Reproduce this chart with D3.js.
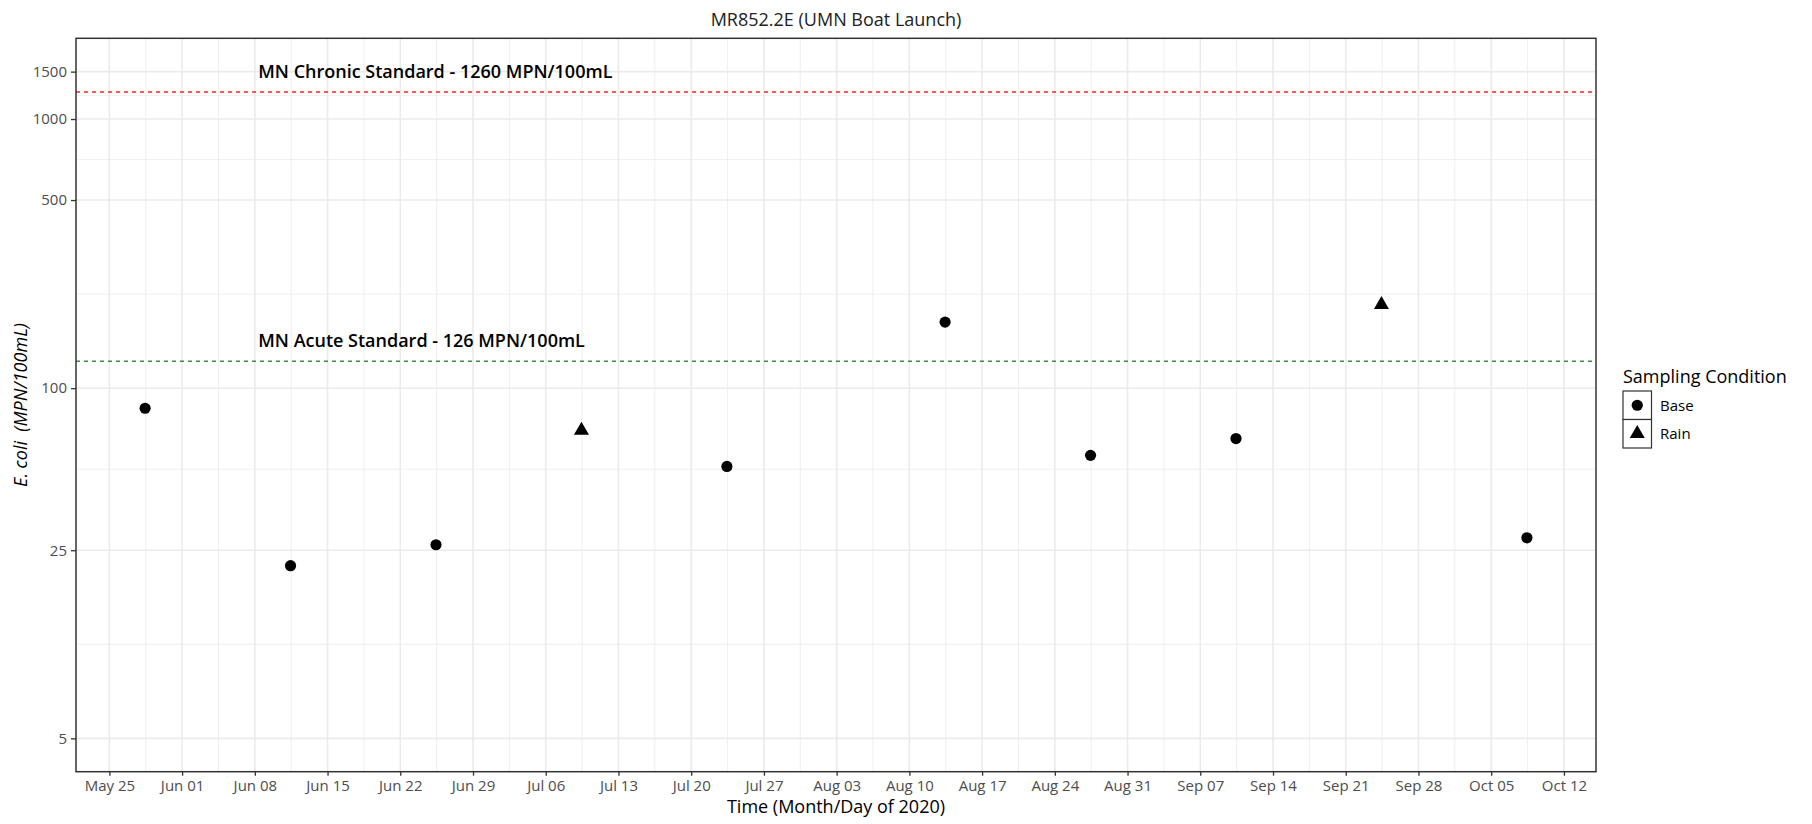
<!DOCTYPE html>
<html>
<head>
<meta charset="utf-8">
<script src="https://cdn.jsdelivr.net/npm/d3@7"></script>
<style>
body { margin: 0; background: #fff; }
svg { font-family: "Open Sans", sans-serif; }
</style>
</head>
<body>
<svg id="chart"></svg>
<script>
var sampleDates = ["2020-05-28", "2020-06-11", "2020-06-25", "2020-07-09", "2020-07-23",
	"2020-08-13", "2020-08-27", "2020-09-10", "2020-09-24", "2020-10-08"];
var ecoli = [84.2, 21.9, 26.2, 69.7, 51.2, 176.0, 56.3, 65.0, 204.5, 27.8];
var condition = ["Base", "Base", "Base", "Rain", "Base", "Base", "Base", "Base", "Rain", "Base"];
var yTicks = [5, 25, 100, 500, 1000, 1500];
var yMinor = [11.18, 50, 223.6, 707.1, 1224.7];
var standards = [
	{label: "MN Chronic Standard - 1260 MPN/100mL", value: 1260, labelAt: 1500, color: "#ff2020"},
	{label: "MN Acute Standard - 126 MPN/100mL", value: 126, labelAt: 150, color: "#33913a"}
];
var conditions = ["Base", "Rain"];

var w = 1812, h = 824;
var pL = 76, pR = 1596, pT = 38.3, pB = 771.7;
var parse = d3.timeParse("%Y-%m-%d %H:%M");

var svg = d3.select("#chart").attr("width", w).attr("height", h);

var dates = sampleDates.map(function(d){ return parse(d + " 10:30"); });
var ext = d3.extent(dates);
var pad = (ext[1] - ext[0]) * 0.05;
var x = d3.scaleTime()
	.domain([new Date(+ext[0] - pad), new Date(+ext[1] + pad)])
	.range([pL, pR]);

var lo = Math.log10(5), hi = Math.log10(1500), yp = (hi - lo) * 0.05;
var y = d3.scaleLog()
	.domain([Math.pow(10, lo - yp), Math.pow(10, hi + yp)])
	.range([pB, pT]);

// grid
var xMajor = d3.timeMonday.range(parse("2020-05-25 00:00"), parse("2020-10-13 00:00"));
var xMin = [];
for (var i = -1; i < xMajor.length; i++) {
	var base = i < 0 ? d3.timeDay.offset(xMajor[0], -7) : xMajor[i];
	var m = new Date(+base + 3.5 * 864e5);
	if (m >= x.domain()[0] && m <= x.domain()[1]) xMin.push(m);
}
var grid = svg.append("g");
grid.selectAll(".ymin").data(yMinor).enter().append("line")
	.attr("x1", pL).attr("x2", pR)
	.attr("y1", function(d){ return y(d); }).attr("y2", function(d){ return y(d); })
	.attr("stroke", "#ebebeb").attr("stroke-width", 0.8);
grid.selectAll(".xmin").data(xMin).enter().append("line")
	.attr("y1", pT).attr("y2", pB)
	.attr("x1", function(d){ return x(d); }).attr("x2", function(d){ return x(d); })
	.attr("stroke", "#ebebeb").attr("stroke-width", 0.8);
grid.selectAll(".ymaj").data(yTicks).enter().append("line")
	.attr("x1", pL).attr("x2", pR)
	.attr("y1", function(d){ return y(d); }).attr("y2", function(d){ return y(d); })
	.attr("stroke", "#ebebeb").attr("stroke-width", 1.6);
grid.selectAll(".xmaj").data(xMajor).enter().append("line")
	.attr("y1", pT).attr("y2", pB)
	.attr("x1", function(d){ return x(d); }).attr("x2", function(d){ return x(d); })
	.attr("stroke", "#ebebeb").attr("stroke-width", 1.6);

// standards
standards.forEach(function(s){
	svg.append("line")
		.attr("x1", pL).attr("x2", pR)
		.attr("y1", y(s.value)).attr("y2", y(s.value))
		.attr("stroke", s.color).attr("stroke-width", 1.5)
		.attr("stroke-dasharray", "4,4");
	svg.append("text")
		.attr("x", x(parse("2020-06-08 08:00"))).attr("y", y(s.labelAt))
		.attr("dy", "0.35em")
		.attr("font-size", 18).attr("font-weight", 600).attr("fill", "#000")
		.text(s.label);
});

// axes
var xAxis = d3.axisBottom(x).tickValues(xMajor).tickFormat(d3.timeFormat("%b %d")).tickSize(4).tickPadding(5);
var gx = svg.append("g").attr("transform", "translate(0," + pB + ")").call(xAxis);
var yAxis = d3.axisLeft(y).tickValues(yTicks).tickFormat(d3.format("d")).tickSize(5).tickPadding(4);
var gy = svg.append("g").attr("transform", "translate(" + pL + ",0)").call(yAxis);
[gx, gy].forEach(function(g){
	g.select(".domain").remove();
	g.selectAll(".tick line").attr("stroke", "#333").attr("stroke-width", 1.3);
	g.selectAll(".tick text").attr("fill", "#4d4d4d").attr("font-size", 15)
		.attr("font-family", "Open Sans, sans-serif");
});

// panel border
svg.append("rect")
	.attr("x", pL).attr("y", pT)
	.attr("width", pR - pL).attr("height", pB - pT)
	.attr("fill", "none").attr("stroke", "#333").attr("stroke-width", 1.5);

// points
var shape = d3.scaleOrdinal().domain(conditions).range([d3.symbolCircle, d3.symbolTriangle]);
svg.selectAll(".pt").data(ecoli).enter().append("path")
	.attr("transform", function(d, i){ return "translate(" + x(dates[i]) + "," + y(d) + ")"; })
	.attr("d", function(d, i){ return d3.symbol().type(shape(condition[i])).size(98)(); })
	.attr("fill", "#000");

// titles
svg.append("text").attr("x", (pL + pR) / 2).attr("y", 26)
	.attr("text-anchor", "middle").attr("font-size", 18).attr("fill", "#222")
	.text("MR852.2E (UMN Boat Launch)");
svg.append("text").attr("x", (pL + pR) / 2).attr("y", 813)
	.attr("text-anchor", "middle").attr("font-size", 18).attr("fill", "#000")
	.text("Time (Month/Day of 2020)");
svg.append("text")
	.attr("transform", "translate(27," + ((pT + pB) / 2) + ") rotate(-90)")
	.attr("text-anchor", "middle").attr("font-size", 18).attr("font-style", "italic").attr("fill", "#000")
	.attr("xml:space", "preserve")
	.text("E. coli  (MPN/100mL)");

// legend
var lg = svg.append("g").attr("transform", "translate(1623,0)");
lg.append("text").attr("x", 0).attr("y", 383).attr("font-size", 18).attr("fill", "#000")
	.text("Sampling Condition");
conditions.forEach(function(c, i){
	var ky = 391 + i * 28.5;
	lg.append("rect").attr("x", 0).attr("y", ky).attr("width", 28.5).attr("height", 28.5)
		.attr("fill", "#fff").attr("stroke", "#333").attr("stroke-width", 1.2);
	lg.append("path").attr("transform", "translate(14.25," + (ky + 14.25) + ")")
		.attr("d", d3.symbol().type(shape(c)).size(98)()).attr("fill", "#000");
	lg.append("text").attr("x", 37).attr("y", ky + 14.25).attr("dy", "0.35em")
		.attr("font-size", 15).attr("fill", "#000").text(c);
});
</script>
</body>
</html>
